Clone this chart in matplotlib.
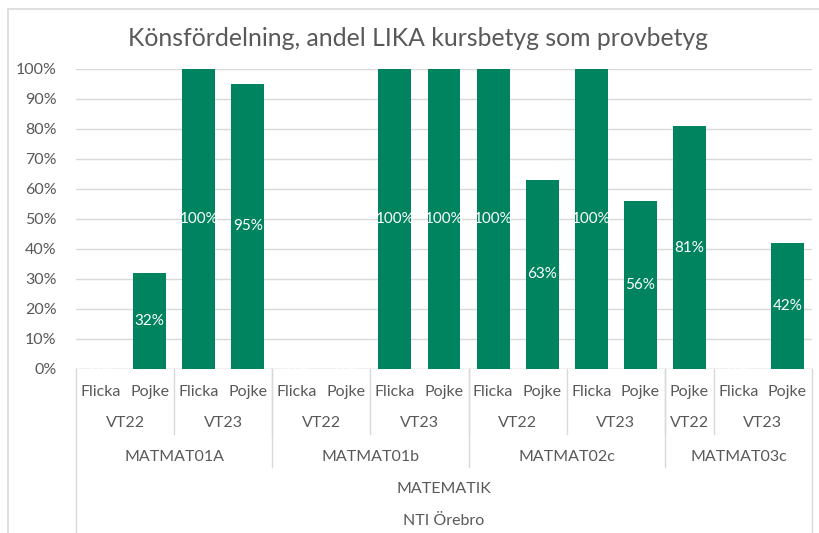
import matplotlib
matplotlib.use("Agg")
import matplotlib.pyplot as plt
import matplotlib.transforms as mtransforms
from matplotlib.patches import Rectangle
import numpy as np

# Data
kon = ["Flicka", "Pojke", "Flicka", "Pojke",
       "Flicka", "Pojke", "Flicka", "Pojke",
       "Flicka", "Pojke", "Flicka", "Pojke",
       "Pojke", "Flicka", "Pojke"]
termin = ["VT22", "VT22", "VT23", "VT23",
          "VT22", "VT22", "VT23", "VT23",
          "VT22", "VT22", "VT23", "VT23",
          "VT22", "VT23", "VT23"]
kurs = ["MATMAT01A"] * 4 + ["MATMAT01b"] * 4 + ["MATMAT02c"] * 4 + ["MATMAT03c"] * 3
amne = ["MATEMATIK"] * 15
skola = ["NTI Örebro"] * 15
andel = [0.00, 0.32, 1.00, 0.95,
         0.00, 0.00, 1.00, 1.00,
         1.00, 0.63, 1.00, 0.56,
         0.81, 0.00, 0.42]

title = "Könsfördelning, andel LIKA kursbetyg som provbetyg"

# Style
W, H = 819, 533
GREEN = "#00835F"
TEXT = "#595959"
GRID = "#D9D9D9"
FONT = "Lato"
FS = 11.5
plt.rcParams["font.family"] = [FONT, "DejaVu Sans"]


def runs(labels, keys):
    # consecutive runs of identical keys -> (label, start, stop)
    out = []
    start = 0
    for i in range(1, len(keys) + 1):
        if i == len(keys) or keys[i] != keys[start]:
            out.append((labels[start], start, i))
            start = i
    return out


fig = plt.figure(figsize=(W / 100, H / 100), dpi=100)
x0, x1, y_top, y_bot = 76, 812, 69, 369
ax = fig.add_axes([x0 / W, 1 - y_bot / H, (x1 - x0) / W, (y_bot - y_top) / H])

# chart border (extends past right/bottom edge)
fig.add_artist(Rectangle((8 / W, -0.1), 1.2, 1 - 9 / H + 0.1, transform=fig.transFigure,
                         fill=False, edgecolor=GRID, lw=1.2))

n = len(andel)
x = np.arange(n)
bars = ax.bar(x, andel, width=0.67, color=GREEN, zorder=3)
for xi, v in zip(x, andel):
    ax.text(xi, v / 2, f"{v:.0%}", ha="center", va="center", fontsize=11,
            color="white", zorder=4)

ax.set_xlim(-0.5, n - 0.5)
ax.set_ylim(0, 1)
ax.set_yticks(np.arange(0, 1.01, 0.1))
ax.set_yticklabels([f"{t:.0%}" for t in np.arange(0, 1.01, 0.1)])
ax.tick_params(axis="y", length=0, pad=14, labelsize=FS, labelcolor=TEXT)
ax.set_xticks([])
ax.grid(axis="y", color=GRID, lw=1, zorder=0)
for s in ax.spines.values():
    s.set_visible(False)
ax.axhline(0, color=GRID, lw=1, zorder=2)

# multi-level category axis
trans = mtransforms.blended_transform_factory(ax.transData, ax.transAxes)
px = 1 / (y_bot - y_top)  # one pixel in axes units


def ypos(y_pixel):
    return (y_bot - y_pixel) * px


for i, lab in enumerate(kon):
    ax.text(i, ypos(392), lab, transform=trans, ha="center", va="center",
            fontsize=FS, color=TEXT, clip_on=False)

for lab, a, b in runs(termin, [k + t for k, t in zip(kurs, termin)]):
    ax.text((a + b - 1) / 2, ypos(423), lab, transform=trans, ha="center", va="center",
            fontsize=FS, color=TEXT, clip_on=False)
    if a > 0:
        ax.plot([a - 0.5, a - 0.5], [0, ypos(434)], transform=trans, color=GRID,
                lw=1, clip_on=False)

for lab, a, b in runs(kurs, kurs):
    ax.text((a + b - 1) / 2, ypos(457), lab, transform=trans, ha="center", va="center",
            fontsize=FS, color=TEXT, clip_on=False)
    if a > 0:
        ax.plot([a - 0.5, a - 0.5], [0, ypos(467)], transform=trans, color=GRID,
                lw=1, clip_on=False)

for lab, a, b in runs(amne, amne):
    ax.text((a + b - 1) / 2, ypos(489), lab, transform=trans, ha="center", va="center",
            fontsize=FS, color=TEXT, clip_on=False)

for lab, a, b in runs(skola, skola):
    ax.text((a + b - 1) / 2, ypos(521), lab, transform=trans, ha="center", va="center",
            fontsize=FS, color=TEXT, clip_on=False)

for xe in (-0.5, n - 0.5):
    ax.plot([xe, xe], [0, ypos(540)], transform=trans, color=GRID, lw=1, clip_on=False)

fig.text(418 / W, 1 - 38 / H, title, ha="center", va="center", fontsize=17.8, color=TEXT)

fig.savefig("out.png", dpi=100)
